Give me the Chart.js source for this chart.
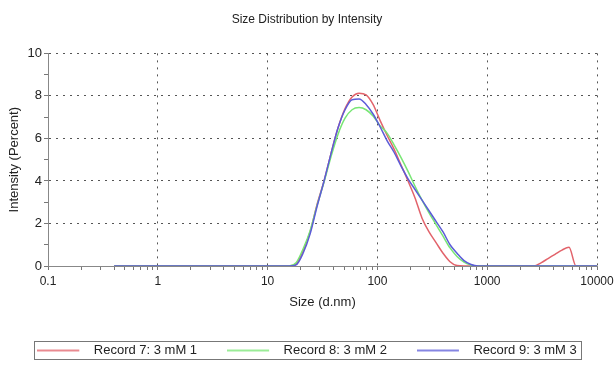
<!DOCTYPE html>
<html lang="en">
<head>
    <meta charset="UTF-8">
    <title>Size Distribution by Intensity</title>
    <script src="https://cdn.jsdelivr.net/npm/chart.js"></script>
    <style>
        html, body {
            margin: 0;
            padding: 0;
            background: #fff;
        }
        .chart-container {
            width: 614px;
            height: 365px;
        }
    </style>
</head>
<body>
    <div class="chart-container">
        <canvas id="sizeChart"></canvas>
    </div>

    <script>
        // size classes (d.nm)
        const sizes = [0.4, 0.4632, 0.5365, 0.6213, 0.7195, 0.8332, 0.9649, 1.117, 1.294, 1.499,
            1.736, 2.010, 2.328, 2.696, 3.122, 3.615, 4.187, 4.849, 5.615, 6.503,
            7.531, 8.721, 10.10, 11.70, 13.54, 15.69, 18.17, 21.04, 24.36, 28.21,
            32.67, 37.84, 43.82, 50.75, 58.77, 68.06, 78.82, 91.28, 105.7, 122.4,
            141.8, 164.2, 190.1, 220.2, 255.0, 295.3, 342.0, 396.1, 458.7, 531.2,
            615.1, 712.4, 825.0, 955.4, 1106, 1281, 1484, 1718, 1990, 2305,
            2669, 3091, 3580, 4145, 4801, 5560, 6439, 7456, 8635, 10000];

        // intensity (%) per size class
        const record7 = [0, 0, 0, 0, 0, 0, 0, 0, 0, 0,
            0, 0, 0, 0, 0, 0, 0, 0, 0, 0,
            0, 0, 0, 0, 0, 0, 0.1, 0.7, 1.6, 2.9,
            4.0, 5.3, 6.5, 7.4, 7.95, 8.13, 8.05, 7.6, 6.85, 6.15,
            5.5, 4.75, 4.0, 3.2, 2.25, 1.6, 1.1, 0.6, 0.2, 0.02,
            0, 0, 0, 0, 0, 0, 0, 0, 0, 0,
            0, 0.15, 0.35, 0.55, 0.75, 0.88, 0, 0, 0, 0];
        const record8 = [0, 0, 0, 0, 0, 0, 0, 0, 0, 0,
            0, 0, 0, 0, 0, 0, 0, 0, 0, 0,
            0, 0, 0, 0, 0, 0, 0.15, 0.8, 1.65, 2.85,
            3.95, 5.15, 6.2, 6.95, 7.35, 7.45, 7.35, 7.05, 6.6, 6.25,
            5.7, 5.1, 4.45, 3.75, 3.1, 2.5, 1.95, 1.4, 0.85, 0.45,
            0.18, 0.04, 0, 0, 0, 0, 0, 0, 0, 0,
            0, 0, 0, 0, 0, 0, 0, 0, 0, 0];
        const record9 = [0, 0, 0, 0, 0, 0, 0, 0, 0, 0,
            0, 0, 0, 0, 0, 0, 0, 0, 0, 0,
            0, 0, 0, 0, 0, 0, 0.05, 0.6, 1.5, 2.8,
            4.0, 5.3, 6.5, 7.35, 7.82, 7.85, 7.6, 7.15, 6.55, 5.9,
            5.35, 4.7, 4.1, 3.6, 3.1, 2.6, 2.1, 1.6, 1.0, 0.6,
            0.25, 0.07, 0, 0, 0, 0, 0, 0, 0, 0,
            0, 0, 0, 0, 0, 0, 0, 0, 0, 0];

        const seriesNames = ['Record 7: 3 mM 1', 'Record 8: 3 mM 2', 'Record 9: 3 mM 3'];
        const seriesColors = ['#e2636b', '#78e674', '#5c5cd8'];

        const xDecades = [0.1, 1, 10, 100, 1000, 10000];
        const yTicks = [0, 1, 2, 3, 4, 5, 6, 7, 8, 9, 10];
        const yLabelled = [0, 2, 4, 6, 8, 10];

        const FONT = "'Liberation Sans', Arial, sans-serif";
        const LEGEND_FONT = 13;
        const LEGEND_SAMPLE = 50;
        const LEGEND_GAP = 30;

        function toPoints(values) {
            return sizes.map((s, i) => ({ x: s, y: values[i] }));
        }

        function isDecade(v) {
            return xDecades.some(d => Math.abs(d - v) < d * 1e-6);
        }

        // legend sample: a short line with some blank space after it
        function legendLine(color) {
            const c = document.createElement('canvas');
            c.width = LEGEND_SAMPLE;
            c.height = 4;
            const g = c.getContext('2d');
            g.strokeStyle = color;
            g.lineWidth = 1.5;
            g.beginPath();
            g.moveTo(0, 2);
            g.lineTo(42, 2);
            g.stroke();
            return c;
        }

        // frame around the legend row, same placement rule the legend uses
        const legendFrame = {
            id: 'legendFrame',
            afterDraw(chart) {
                const legend = chart.legend;
                if (!legend || !legend.lineWidths) return;
                const rowWidth = legend.lineWidths[0];
                const start = (legend.left + LEGEND_GAP + legend.right - rowWidth) / 2;
                const end = start + rowWidth - LEGEND_GAP;
                const top = legend.top + LEGEND_GAP;
                const ctx = chart.ctx;
                ctx.save();
                ctx.strokeStyle = '#777';
                ctx.lineWidth = 1;
                ctx.strokeRect(Math.round(start - 3) + 0.5, Math.round(top - 3) + 0.5,
                    Math.round(end - start + 8), LEGEND_FONT + 5);
                ctx.restore();
            }
        };

        const ctx = document.getElementById('sizeChart').getContext('2d');
        const sizeChart = new Chart(ctx, {
            type: 'line',
            data: {
                datasets: [0, 1, 2].map(i => ({
                    label: seriesNames[i],
                    data: toPoints([record7, record8, record9][i]),
                    borderColor: seriesColors[i],
                    backgroundColor: seriesColors[i],
                    borderWidth: 1.5,
                    pointRadius: 0,
                    pointStyle: legendLine(seriesColors[i]),
                    fill: false,
                    cubicInterpolationMode: 'monotone',
                    order: 2 - i
                }))
            },
            options: {
                responsive: true,
                maintainAspectRatio: false,
                animation: false,
                layout: {
                    padding: { left: 0, right: 0, top: 0, bottom: 0 }
                },
                plugins: {
                    title: {
                        display: true,
                        text: 'Size Distribution by Intensity',
                        color: '#222',
                        font: { family: FONT, size: 12, weight: 'normal' },
                        padding: { top: 12, bottom: 27 }
                    },
                    legend: {
                        position: 'bottom',
                        maxHeight: 51,
                        labels: {
                            color: '#222',
                            font: { family: FONT, size: LEGEND_FONT },
                            usePointStyle: true,
                            pointStyleWidth: LEGEND_SAMPLE,
                            padding: LEGEND_GAP,
                            sort: (a, b) => a.datasetIndex - b.datasetIndex
                        }
                    },
                    tooltip: { enabled: false }
                },
                scales: {
                    x: {
                        type: 'logarithmic',
                        min: 0.1,
                        max: 10000,
                        afterBuildTicks: (scale) => {
                            const ticks = [];
                            xDecades.forEach((d, k) => {
                                if (k === xDecades.length - 1) {
                                    ticks.push({ value: d });
                                    return;
                                }
                                for (let m = 1; m < 10; m++) ticks.push({ value: d * m });
                            });
                            scale.ticks = ticks;
                        },
                        afterFit: (scale) => {
                            scale.height = 48;
                            scale.paddingRight = 17;
                        },
                        ticks: {
                            autoSkip: false,
                            maxRotation: 0,
                            color: '#222',
                            font: { family: FONT, size: 12 },
                            padding: 4,
                            callback: (v) => isDecade(v) ? String(parseFloat(v.toPrecision(6))) : ''
                        },
                        grid: {
                            color: (c) => c.tick && isDecade(c.tick.value) ? '#555' : 'rgba(0,0,0,0)',
                            tickColor: '#777',
                            tickLength: 4,
                            lineWidth: 1
                        },
                        border: { display: true, color: '#888', width: 1, dash: [2, 5] },
                        title: {
                            display: true,
                            text: 'Size (d.nm)',
                            color: '#222',
                            font: { family: FONT, size: 13 },
                            padding: { top: 0, bottom: 4 }
                        }
                    },
                    y: {
                        min: 0,
                        max: 10,
                        afterBuildTicks: (scale) => {
                            scale.ticks = yTicks.map(v => ({ value: v }));
                        },
                        afterFit: (scale) => { scale.width = 48; },
                        ticks: {
                            color: '#222',
                            font: { family: FONT, size: 13 },
                            padding: 2,
                            callback: (v) => yLabelled.includes(v) ? String(v) : ''
                        },
                        grid: {
                            color: (c) => c.tick && yLabelled.includes(c.tick.value) ? '#555' : 'rgba(0,0,0,0)',
                            tickColor: '#777',
                            tickLength: 4,
                            lineWidth: 1
                        },
                        border: { display: true, color: '#888', width: 1, dash: [2, 5] },
                        title: {
                            display: true,
                            text: 'Intensity (Percent)',
                            color: '#222',
                            font: { family: FONT, size: 13 },
                            padding: { top: 7, bottom: 0 }
                        }
                    }
                }
            },
            plugins: [legendFrame]
        });
    </script>
</body>
</html>
